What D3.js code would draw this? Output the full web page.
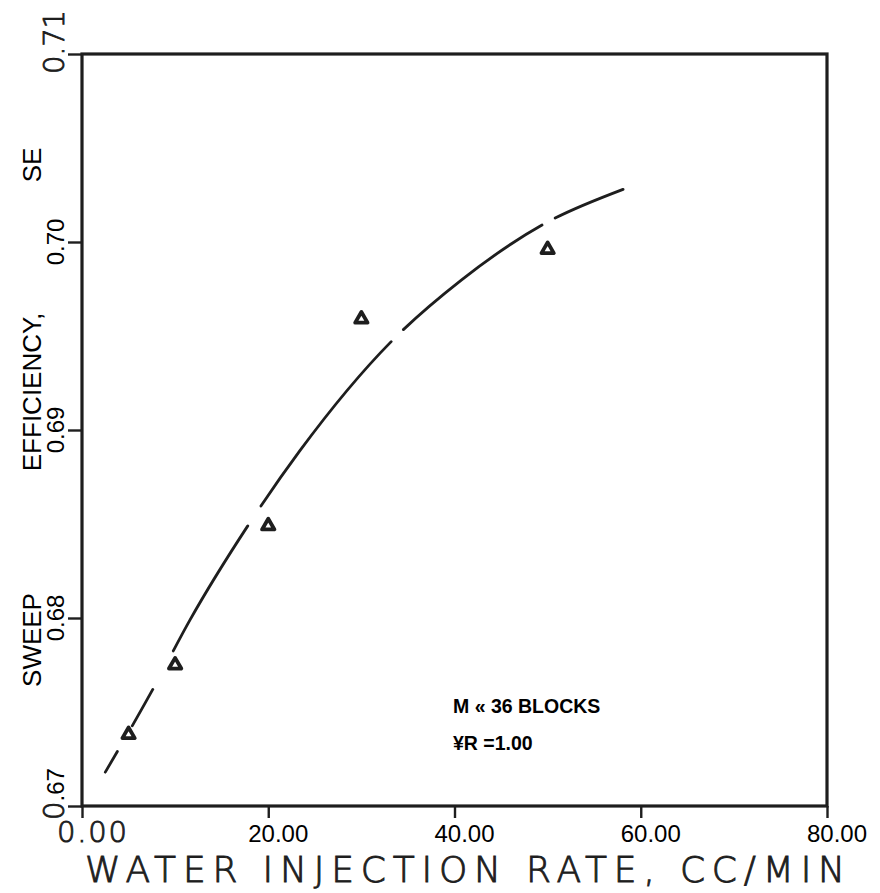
<!DOCTYPE html>
<html>
<head>
<meta charset="utf-8">
<script src="https://cdn.jsdelivr.net/npm/d3@7"></script>
<style>
  body { margin: 0; background: #fff; }
  svg { display: block; }
</style>
</head>
<body>
<svg id="chart"></svg>
<script>
// measured points (triangles)
const rateX = [5, 10, 20, 30, 50];
const sweepEff = [0.6738, 0.6775, 0.6849, 0.6959, 0.6996];

// fitted curve
const curveX = [2.5, 7.6, 11.6, 17.8, 23.4, 33.2, 40.8, 49.4, 58.1];
const curveY = [0.6718, 0.6762, 0.6799, 0.6849, 0.6889, 0.6947, 0.6980, 0.7009, 0.7028];
// breaks in the drawn curve (x ranges)
const curveGaps = [[3.8, 5.4], [7.6, 9.8], [17.8, 19.2], [33.2, 34.5], [49.4, 50.8]];

const xTicks = [0, 20, 40, 60, 80];
const xTickLabels = ["0.00", "20.00", "40.00", "60.00", "80.00"];
const yTicks = [0.67, 0.68, 0.69, 0.70, 0.71];
const yTickLabels = [".67", "0.68", "0.69", "0.70", "0.71"];

const noteLines = ["M « 36 BLOCKS", "¥R =1.00"];

const width = 880;
const height = 893;
const marginTop = 54;
const marginRight = 53;
const marginBottom = 87;
const marginLeft = 82;

const ink = "#1e1e1e";
const sans = "'Liberation Sans', Arial, sans-serif";
const plotter = "'DejaVu Sans', sans-serif";

// thin pen lettering: extra-light face with a small outline stroke
const pen = sel => sel
    .attr("font-family", plotter)
    .attr("font-weight", 200)
    .attr("fill", ink)
    .attr("stroke", ink)
    .attr("stroke-width", 0.9);

const x = d3.scaleLinear()
    .domain([0, 80])
    .range([marginLeft, width - marginRight]);

const y = d3.scaleLinear()
    .domain([0.67, 0.71])
    .range([height - marginBottom, marginTop]);

const svg = d3.select("#chart")
    .attr("width", width)
    .attr("height", height);

// frame
svg.append("rect")
    .attr("x", x(0))
    .attr("y", y(0.71))
    .attr("width", x(80) - x(0))
    .attr("height", y(0.67) - y(0.71))
    .attr("fill", "none")
    .attr("stroke", ink)
    .attr("stroke-width", 3.2);

// axes (ticks only, labels drawn by hand because of mixed fonts)
svg.append("g")
    .attr("transform", `translate(0,${y(0.67)})`)
    .call(d3.axisBottom(x).tickValues(xTicks).tickSize(12).tickFormat(""))
    .call(g => g.select(".domain").remove())
    .call(g => g.selectAll(".tick line").attr("stroke", ink).attr("stroke-width", 2.4));

svg.append("g")
    .attr("transform", `translate(${x(0)},0)`)
    .call(d3.axisLeft(y).tickValues(yTicks).tickSize(14).tickFormat(""))
    .call(g => g.select(".domain").remove())
    .call(g => g.selectAll(".tick line").attr("stroke", ink).attr("stroke-width", 2.4));

// x tick labels
xTicks.forEach((v, i) => {
    if (i === 0) {
        svg.append("text")
            .attr("x", x(v) + 10)
            .attr("y", 842)
            .attr("text-anchor", "middle")
            .attr("font-size", 29)
            .attr("textLength", 70)
            .call(pen)
            .text(xTickLabels[i]);
    } else {
        svg.append("text")
            .attr("x", x(v) + 10)
            .attr("y", 842)
            .attr("text-anchor", "middle")
            .attr("font-family", sans)
            .attr("font-size", 24)
            .attr("fill", "#000")
            .text(xTickLabels[i]);
    }
});

// y tick labels, rotated
yTicks.forEach((v, i) => {
    const t = svg.append("text")
        .attr("transform", `translate(64,${y(v)}) rotate(-90)`)
        .attr("text-anchor", "middle")
        .attr("fill", "#000");
    if (i === 0) {
        t.attr("dx", 12);
        t.append("tspan").attr("font-size", 29).call(pen).text("0");
        t.append("tspan").attr("font-family", sans).attr("font-size", 24).text(yTickLabels[i]);
    } else if (i === yTicks.length - 1) {
        t.attr("dx", 12)
            .attr("font-size", 29)
            .attr("textLength", 64)
            .call(pen)
            .text(yTickLabels[i]);
    } else {
        t.attr("font-family", sans)
            .attr("font-size", 24)
            .text(yTickLabels[i]);
    }
});

// y axis title, split into three pieces as in the scan
[["SE", 165], ["EFFICIENCY,", 392], ["SWEEP", 640]].forEach(([s, cy]) => {
    svg.append("text")
        .attr("transform", `translate(41,${cy}) rotate(-90)`)
        .attr("text-anchor", "middle")
        .attr("font-family", sans)
        .attr("font-size", 26)
        .attr("fill", "#000")
        .text(s);
});

// x axis title
svg.append("text")
    .attr("x", 85)
    .attr("y", 882)
    .attr("font-size", 36)
    .attr("textLength", 760)
    .attr("lengthAdjust", "spacing")
    .call(pen)
    .text("WATER INJECTION RATE, CC/MIN");

// curve
const line = d3.line()
    .x(d => x(d[0]))
    .y(d => y(d[1]))
    .curve(d3.curveMonotoneX);

const path = svg.append("path")
    .datum(curveX.map((v, i) => [v, curveY[i]]))
    .attr("fill", "none")
    .attr("stroke", ink)
    .attr("stroke-width", 2.8)
    .attr("stroke-linecap", "round")
    .attr("d", line);

// turn the gap x ranges into a dash pattern along the path
const node = path.node();
const total = node.getTotalLength();
const lengthAtX = px => {
    let lo = 0, hi = total;
    for (let k = 0; k < 40; k++) {
        const mid = (lo + hi) / 2;
        if (node.getPointAtLength(mid).x < px) lo = mid; else hi = mid;
    }
    return (lo + hi) / 2;
};
let dash = [], pos = 0;
curveGaps.forEach(([a, b]) => {
    const la = lengthAtX(x(a)), lb = lengthAtX(x(b));
    dash.push(la - pos, lb - la);
    pos = lb;
});
dash.push(total - pos + 10, 0);
path.attr("stroke-dasharray", dash.join(" "));

// measured points
svg.append("g")
    .selectAll("path")
    .data(rateX.map((v, i) => [v, sweepEff[i]]))
    .join("path")
    .attr("transform", d => `translate(${x(d[0])},${y(d[1])})`)
    .attr("d", d3.symbol(d3.symbolTriangle, 66))
    .attr("fill", "#fff")
    .attr("stroke", ink)
    .attr("stroke-width", 3.8)
    .attr("stroke-linejoin", "round");

// note
svg.append("g")
    .selectAll("text")
    .data(noteLines)
    .join("text")
    .attr("x", 453)
    .attr("y", (d, i) => 713 + i * 37)
    .attr("font-family", sans)
    .attr("font-weight", "bold")
    .attr("font-size", 19.5)
    .attr("fill", "#000")
    .text(d => d);
</script>
</body>
</html>
